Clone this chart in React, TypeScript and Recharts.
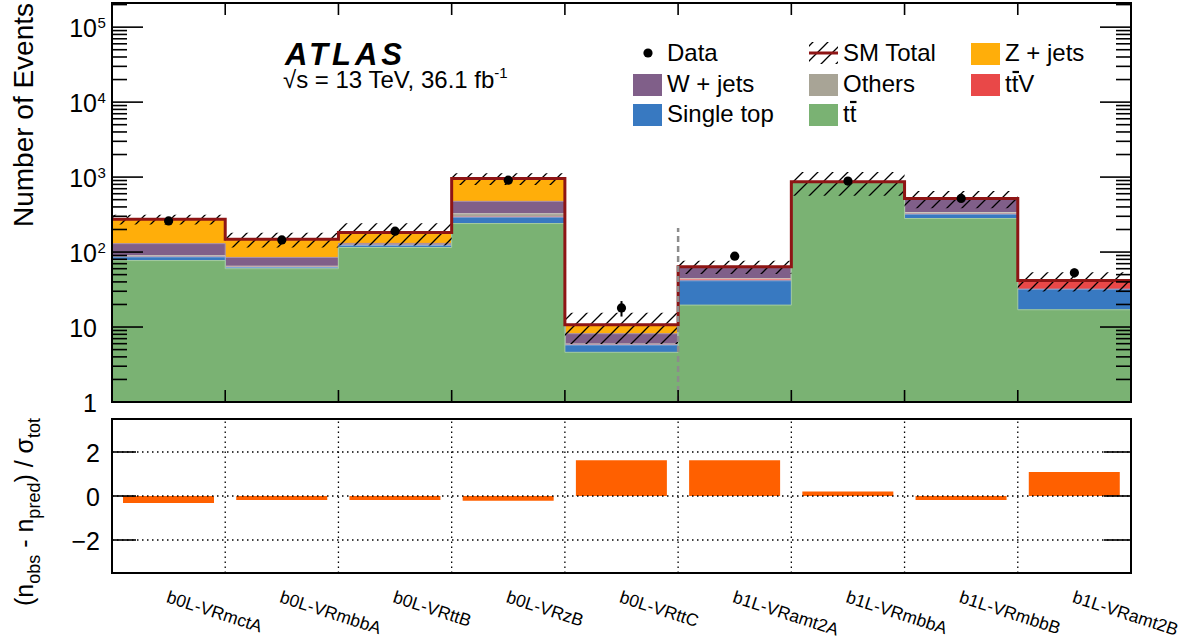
import { ComposedChart, Area, Line, Scatter, ErrorBar, XAxis, YAxis, ReferenceLine, BarChart, Bar } from 'recharts'

const FONT = "'Liberation Sans', Arial, Helvetica, sans-serif"

const regions = ['b0L-VRmctA', 'b0L-VRmbbA', 'b0L-VRttB', 'b0L-VRzB', 'b0L-VRttC', 'b1L-VRamt2A', 'b1L-VRmbbA', 'b1L-VRmbbB', 'b1L-VRamt2B']

// background yields per region (events)
const ttbar = [77, 60, 115, 240, 4.6, 19.6, 850, 280, 17]
const singleTop = [9, 2.5, 7, 52, 1.15, 21.8, 4, 40, 15]
const ttV = [0.5, 0.3, 0.5, 3, 0.05, 1.9, 2, 3, 8.5]
const others = [3, 2, 2, 30, 0.15, 1, 3, 14, 0.5]
const wjets = [40, 20, 6, 150, 2.2, 19, 6, 180, 0.5]
const zjets = [145, 63, 52, 480, 2.6, 0.5, 1, 1, 0.2]
const smUnc = [41, 33, 60, 170, 4.8, 13, 300, 135, 12]

const dataObs = [260, 145, 190, 910, 18, 88, 885, 520, 53]
const dataErr = [16, 12, 14, 30, 4.2, 9.4, 30, 23, 7.3]

const significance = [-0.32, -0.18, -0.18, -0.22, 1.62, 1.62, 0.21, -0.18, 1.09]

const yMajorTicks = [1, 10, 100, 1000, 10000, 100000]
const yMinorSteps = [2, 3, 4, 5, 6, 7, 8, 9]
const sigTicks = [-2, 0, 2]

const Y_MAX = 2.1e5
const DIVIDER_TOP = 210
const PLOT_W = 1019
const TOP_H = 399

// stacking order, bottom up
const stackOrder = [
  { key: 'ttbar', values: ttbar, fill: '#7AB273', edge: '#A6CC9F' },
  { key: 'singleTop', values: singleTop, fill: '#3879C1', edge: '#86AEDB' },
  { key: 'ttV', values: ttV, fill: '#E94848', edge: '#F29494' },
  { key: 'others', values: others, fill: '#A8A496', edge: '#CBC8BE' },
  { key: 'wjets', values: wjets, fill: '#805F89', edge: '#A992AF' },
  { key: 'zjets', values: zjets, fill: '#FFAE0A', edge: '#FFCB63' },
]

const cumulative = stackOrder.map((_, li) =>
  regions.map((__, b) => stackOrder.slice(0, li + 1).reduce((s, l) => s + l.values[b], 0))
)
const smTotal = cumulative[cumulative.length - 1]

const edgeTicks = regions.concat(['end']).map((_, e) => e)
const centerTicks = regions.map((_, i) => i + 0.5)

// one row per bin edge; the last edge repeats the last bin so the step closes
const edgeRows = edgeTicks.map((e) => {
  const b = Math.min(e, regions.length - 1)
  const row: Record<string, any> = {
    x: e,
    total: smTotal[b],
    band: [smTotal[b] - smUnc[b], smTotal[b] + smUnc[b]],
  }
  stackOrder.forEach((l, li) => {
    row[l.key] = cumulative[li][b]
  })
  return row
})

const dataPoints = dataObs.map((v, i) => ({ x: i + 0.5, y: v, err: dataErr[i] }))
const sigRows = significance.map((s, i) => ({ x: i + 0.5, sig: s }))

const logTicks = yMajorTicks
  .flatMap((m) => [m, ...yMinorSteps.map((s) => m * s)])
  .filter((v) => v <= Y_MAX)

function LogTick(props: any) {
  const { x, y, payload } = props
  const v = payload.value as number
  const major = yMajorTicks.includes(v)
  const len = major ? 31 : 15
  const exp = Math.round(Math.log10(v))
  return (
    <g>
      <line x1={x} x2={x + len} y1={y} y2={y} stroke="#000" strokeWidth={1.6} />
      <line x1={x + PLOT_W - len} x2={x + PLOT_W} y1={y} y2={y} stroke="#000" strokeWidth={1.6} />
      {major && (
        <text x={x - 15} y={y + 10} textAnchor="end" fontSize={25} fontFamily={FONT} fill="#000">
          {exp < 2 ? String(v) : '10'}
        </text>
      )}
      {major && exp >= 2 && (
        <text x={x - 14.5} y={y + 1} fontSize={15} fontFamily={FONT} fill="#000">
          {exp}
        </text>
      )}
    </g>
  )
}

function EdgeTick(props: any) {
  const { x, y, payload } = props
  if (payload.value === 0 || payload.value === regions.length) return <g />
  return (
    <g>
      <line x1={x} x2={x} y1={y} y2={y - 12} stroke="#000" strokeWidth={1.6} />
      <line x1={x} x2={x} y1={y - TOP_H} y2={y - TOP_H + 12} stroke="#000" strokeWidth={1.6} />
    </g>
  )
}

function RegionTick(props: any) {
  const { x, y, payload } = props
  const tx = x - 3
  const ty = y + 29
  return (
    <text x={tx} y={ty} transform={`rotate(18, ${tx}, ${ty})`} fontSize={17.5} fontFamily={FONT} fill="#000">
      {regions[Math.floor(payload.value)]}
    </text>
  )
}

function SigTick(props: any) {
  const { x, y, payload } = props
  const v = payload.value as number
  return (
    <g>
      <line x1={x} x2={x + 24} y1={y} y2={y} stroke="#000" strokeWidth={1.6} />
      <line x1={x + PLOT_W - 27} x2={x + PLOT_W} y1={y} y2={y} stroke="#000" strokeWidth={1.6} />
      <text x={x - 12} y={y + 9.5} textAnchor="end" fontSize={25} fontFamily={FONT} fill="#000">
        {v < 0 ? '\u2212' + Math.abs(v) : String(v)}
      </text>
    </g>
  )
}

function DataDot(props: any) {
  return <circle cx={props.cx} cy={props.cy} r={4.6} fill="#000" />
}

const legendRows = [
  { label: 'W + jets', fill: '#805F89', x: 633, y: 92 },
  { label: 'Single top', fill: '#3879C1', x: 633, y: 122 },
  { label: 'Others', fill: '#A8A496', x: 809, y: 92 },
  { label: 'Z + jets', fill: '#FFAE0A', x: 971, y: 61 },
]

function Overlay() {
  const t = { fontFamily: FONT, fill: '#000' }
  return (
    <svg width={1192} height={644} style={{ position: 'absolute', left: 0, top: 0, pointerEvents: 'none' }}>
      <defs>
        <pattern id="smHatch" patternUnits="userSpaceOnUse" width={15} height={15}>
          <path d="M0,15 L15,0 M-3,3 L3,-3 M12,18 L18,12" stroke="#000" strokeWidth={1.3} />
        </pattern>
      </defs>
      <rect x={112} y={3} width={PLOT_W} height={TOP_H} fill="none" stroke="#000" strokeWidth={2} />
      <rect x={112} y={419} width={PLOT_W} height={154} fill="none" stroke="#000" strokeWidth={2} />

      <text x={33} y={115} transform="rotate(-90, 33, 115)" textAnchor="middle" fontSize={28} {...t}>
        Number of Events
      </text>
      <text x={33} y={512} transform="rotate(-90, 33, 512)" textAnchor="middle" fontSize={25} {...t}>
        (n<tspan fontSize={18} dy={7}>obs</tspan>
        <tspan dy={-7}> - n</tspan>
        <tspan fontSize={18} dy={7}>pred</tspan>
        <tspan dy={-7}>) / σ</tspan>
        <tspan fontSize={18} dy={7}>tot</tspan>
      </text>

      <text x={285} y={65} fontSize={31} fontWeight="bold" fontStyle="italic" letterSpacing={4} {...t}>
        ATLAS
      </text>
      <text x={283} y={88} fontSize={24} {...t}>
        √s = 13 TeV, 36.1 fb<tspan fontSize={15} dy={-10}>-1</tspan>
      </text>

      <circle cx={648} cy={53} r={4.6} fill="#000" />
      <text x={667} y={61} fontSize={24} {...t}>Data</text>

      <rect x={809} y={42} width={29} height={22} fill="url(#smHatch)" />
      <line x1={809} x2={838} y1={53} y2={53} stroke="#8E1515" strokeWidth={3} />
      <text x={843} y={61} fontSize={24} {...t}>SM Total</text>

      {legendRows.map((r) => (
        <g key={r.label}>
          <rect x={r.x} y={r.y - 18} width={29} height={22} fill={r.fill} />
          <text x={r.x + 34} y={r.y} fontSize={24} {...t}>{r.label}</text>
        </g>
      ))}

      <rect x={971} y={74} width={29} height={22} fill="#E94848" />
      <text x={1005} y={92} fontSize={24} {...t}>ttV</text>
      <line x1={1012.5} x2={1019} y1={72} y2={72} stroke="#000" strokeWidth={2.2} />
      <rect x={809} y={104} width={29} height={22} fill="#7AB273" />
      <text x={843} y={122} fontSize={24} {...t}>tt</text>
      <line x1={850} x2={856.5} y1={102} y2={102} stroke="#000" strokeWidth={2.2} />
    </svg>
  )
}

export default function App() {
  return (
    <div style={{ position: 'absolute', left: 0, top: 0, width: 1192, height: 644, background: '#fff' }}>
      <div style={{ position: 'absolute', left: 0, top: 0 }}>
        <ComposedChart width={1192} height={418} data={edgeRows} margin={{ top: 3, right: 61, bottom: 15, left: 111 }}>
          {[...stackOrder].reverse().map((l) => (
            <Area
              key={l.key}
              type="stepAfter"
              dataKey={l.key}
              stroke={l.edge}
              strokeWidth={1}
              fill={l.fill}
              fillOpacity={1}
              baseValue={1}
              dot={false}
              activeDot={false}
              isAnimationActive={false}
            />
          ))}
          <Line type="stepAfter" dataKey="total" stroke="#8E1515" strokeWidth={3} dot={false} activeDot={false} isAnimationActive={false} />
          <Area type="stepAfter" dataKey="band" stroke="none" fill="url(#smHatch)" fillOpacity={1} dot={false} activeDot={false} isAnimationActive={false} />
          <ReferenceLine
            segment={[{ x: 5, y: 1 }, { x: 5, y: DIVIDER_TOP }]}
            stroke="#8C8C8C"
            strokeWidth={2.5}
            strokeDasharray="6 4"
          />
          <Scatter data={dataPoints} dataKey="y" fill="#000" shape={DataDot} isAnimationActive={false}>
            <ErrorBar dataKey="err" direction="y" width={0} stroke="#000" strokeWidth={2} />
          </Scatter>
          <XAxis
            type="number"
            dataKey="x"
            domain={[0, regions.length]}
            ticks={edgeTicks}
            interval={0}
            height={1}
            tick={EdgeTick}
            tickLine={false}
            axisLine={false}
            tickSize={0}
            tickMargin={0}
            allowDataOverflow
          />
          <YAxis
            type="number"
            scale="log"
            domain={[1, Y_MAX]}
            ticks={logTicks}
            interval={0}
            width={1}
            tick={LogTick}
            tickLine={false}
            axisLine={false}
            tickSize={0}
            tickMargin={0}
            allowDataOverflow
          />
        </ComposedChart>
      </div>
      <div style={{ position: 'absolute', left: 0, top: 410 }}>
        <BarChart width={1192} height={234} data={sigRows} margin={{ top: 9, right: 61, bottom: 70, left: 111 }}>
          {sigTicks.map((v) => (
            <ReferenceLine key={'h' + v} y={v} stroke="#000" strokeWidth={1.3} strokeDasharray="1.5 3.5" />
          ))}
          {edgeTicks.slice(1, -1).map((e) => (
            <ReferenceLine key={'v' + e} x={e} stroke="#000" strokeWidth={1.3} strokeDasharray="1.5 3.5" />
          ))}
          <Bar dataKey="sig" fill="#FF6000" barSize={91} isAnimationActive={false} />
          <XAxis
            type="number"
            dataKey="x"
            domain={[0, regions.length]}
            ticks={centerTicks}
            interval={0}
            height={1}
            tick={RegionTick}
            tickLine={false}
            axisLine={false}
            tickSize={0}
            tickMargin={0}
            allowDataOverflow
          />
          <YAxis
            type="number"
            domain={[-3.5, 3.5]}
            ticks={sigTicks}
            interval={0}
            width={1}
            tick={SigTick}
            tickLine={false}
            axisLine={false}
            tickSize={0}
            tickMargin={0}
            allowDataOverflow
          />
        </BarChart>
      </div>
      <Overlay />
    </div>
  )
}
